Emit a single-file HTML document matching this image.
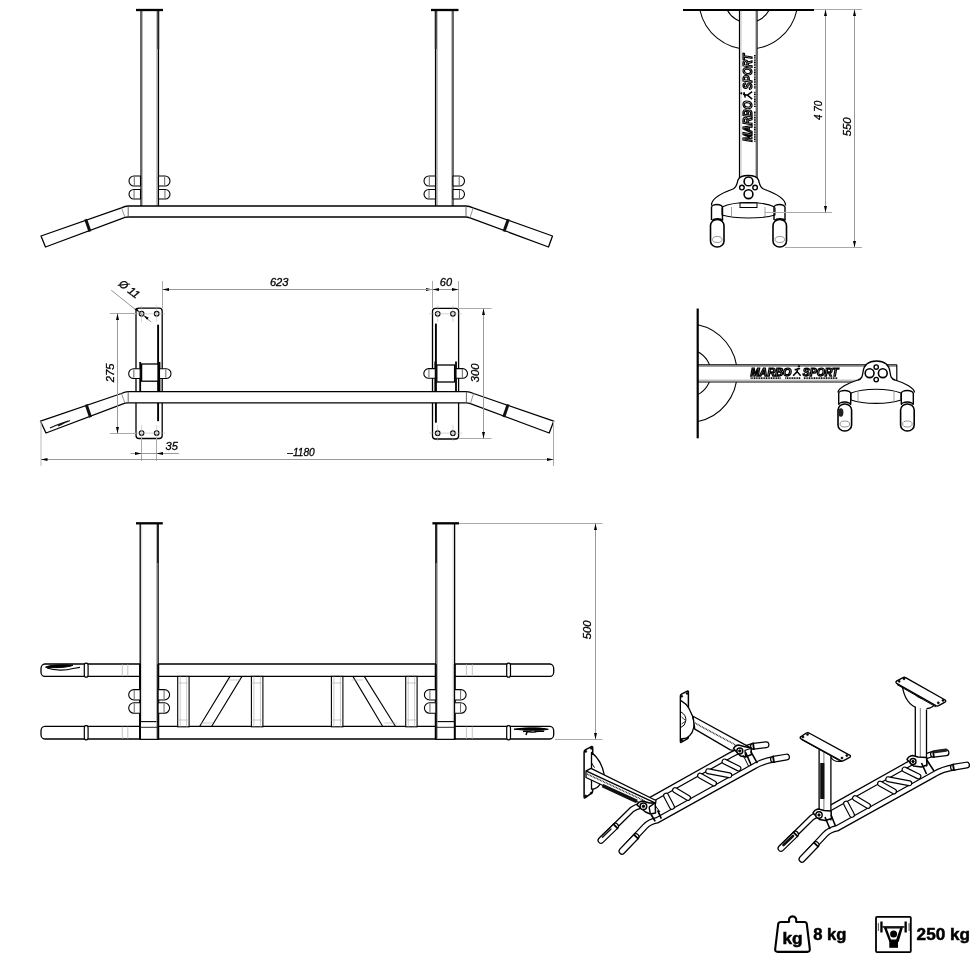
<!DOCTYPE html>
<html><head><meta charset="utf-8"><style>
html,body{margin:0;padding:0;background:#fff;overflow:hidden;}
svg{display:block;}
text{font-family:"Liberation Sans",sans-serif;fill:#000;}
svg{will-change:transform;}
</style></head><body>
<svg width="980" height="980" viewBox="0 0 980 980">
<rect width="980" height="980" fill="#fff"/>
<rect x="141" y="10" width="17.5" height="197" fill="#fff"/>
<line x1="141" y1="10" x2="141" y2="207" stroke="#000" stroke-width="1.2" />
<line x1="158.5" y1="10" x2="158.5" y2="207" stroke="#000" stroke-width="1.2" />
<line x1="142.5" y1="10" x2="142.5" y2="207" stroke="#aaa" stroke-width="0.8" />
<line x1="157.1" y1="10" x2="157.1" y2="207" stroke="#888" stroke-width="1.2" />
<line x1="158.3" y1="10" x2="158.3" y2="49" stroke="#222" stroke-width="1.8" />
<line x1="136" y1="10" x2="163" y2="10" stroke="#000" stroke-width="2.3" />
<rect x="435.5" y="10" width="17.5" height="197" fill="#fff"/>
<line x1="435.5" y1="10" x2="435.5" y2="207" stroke="#000" stroke-width="1.2" />
<line x1="453" y1="10" x2="453" y2="207" stroke="#000" stroke-width="1.2" />
<line x1="451.5" y1="10" x2="451.5" y2="207" stroke="#aaa" stroke-width="0.8" />
<line x1="436.9" y1="10" x2="436.9" y2="207" stroke="#888" stroke-width="1.2" />
<line x1="435.7" y1="10" x2="435.7" y2="49" stroke="#222" stroke-width="1.8" />
<line x1="431" y1="10" x2="458.5" y2="10" stroke="#000" stroke-width="2.3" />
<path d="M140.5,176 L134,176 A5,5 0 0 0 134,186 L140.5,186 Z" fill="#fff" stroke="#000" stroke-width="1.1" stroke-linejoin="round" />
<line x1="134.3" y1="176.6" x2="134.3" y2="185.4" stroke="#555" stroke-width="0.9" />
<path d="M158.5,176 L165,176 A5,5 0 0 1 165,186 L158.5,186 Z" fill="#fff" stroke="#000" stroke-width="1.1" stroke-linejoin="round" />
<line x1="164.7" y1="176.6" x2="164.7" y2="185.4" stroke="#555" stroke-width="0.9" />
<path d="M435.5,176 L429,176 A5,5 0 0 0 429,186 L435.5,186 Z" fill="#fff" stroke="#000" stroke-width="1.1" stroke-linejoin="round" />
<line x1="429.3" y1="176.6" x2="429.3" y2="185.4" stroke="#555" stroke-width="0.9" />
<path d="M453,176 L459.5,176 A5,5 0 0 1 459.5,186 L453,186 Z" fill="#fff" stroke="#000" stroke-width="1.1" stroke-linejoin="round" />
<line x1="459.2" y1="176.6" x2="459.2" y2="185.4" stroke="#555" stroke-width="0.9" />
<path d="M140.5,189.5 L133.75,189.5 A4.75,4.75 0 0 0 133.75,199 L140.5,199 Z" fill="#fff" stroke="#000" stroke-width="1.1" stroke-linejoin="round" />
<line x1="134.05" y1="190.1" x2="134.05" y2="198.4" stroke="#555" stroke-width="0.9" />
<path d="M158.5,189.5 L165.25,189.5 A4.75,4.75 0 0 1 165.25,199 L158.5,199 Z" fill="#fff" stroke="#000" stroke-width="1.1" stroke-linejoin="round" />
<line x1="164.95" y1="190.1" x2="164.95" y2="198.4" stroke="#555" stroke-width="0.9" />
<path d="M435.5,189.5 L428.75,189.5 A4.75,4.75 0 0 0 428.75,199 L435.5,199 Z" fill="#fff" stroke="#000" stroke-width="1.1" stroke-linejoin="round" />
<line x1="429.05" y1="190.1" x2="429.05" y2="198.4" stroke="#555" stroke-width="0.9" />
<path d="M453,189.5 L459.75,189.5 A4.75,4.75 0 0 1 459.75,199 L453,199 Z" fill="#fff" stroke="#000" stroke-width="1.1" stroke-linejoin="round" />
<line x1="459.45" y1="190.1" x2="459.45" y2="198.4" stroke="#555" stroke-width="0.9" />
<path d="M41,236 L121.4,207.8 Q125.2,206 128.2,206 L466,206 Q469,206 473.2,207.8 L552.5,236 L548.5,247 L470,217.8 Q467.5,217 466,217 L128.2,217 Q126.7,217 125,217.4 L45.5,247 Z" fill="#fff" stroke="#000" stroke-width="1.3" stroke-linejoin="round" />
<line x1="128.2" y1="206" x2="128.2" y2="217" stroke="#555" stroke-width="0.9" />
<line x1="466" y1="206" x2="466" y2="217" stroke="#555" stroke-width="0.9" />
<line x1="121.4" y1="207.8" x2="125" y2="217.4" stroke="#777" stroke-width="0.8" />
<line x1="473.2" y1="207.8" x2="470" y2="217.8" stroke="#777" stroke-width="0.8" />
<line x1="85.67" y1="219.27" x2="89.96" y2="231.51" stroke="#111" stroke-width="3.0" />
<line x1="508.34" y1="219.23" x2="503.97" y2="231.5" stroke="#111" stroke-width="3.0" />
<path d="M699.9,10 A49.6,49.6 0 0 0 796.9,10" fill="none" stroke="#000" stroke-width="1.1" stroke-linejoin="round" />
<path d="M727.2,10 A23.7,23.7 0 0 0 769.2,10" fill="none" stroke="#000" stroke-width="1.1" stroke-linejoin="round" />
<rect x="739.5" y="10" width="17.5" height="167" fill="#fff"/>
<line x1="739.5" y1="10" x2="739.5" y2="178" stroke="#000" stroke-width="1.2" />
<line x1="757" y1="10" x2="757" y2="178" stroke="#000" stroke-width="1.2" />
<line x1="741" y1="10" x2="741" y2="178" stroke="#aaa" stroke-width="0.7" />
<line x1="755.5" y1="10" x2="755.5" y2="178" stroke="#aaa" stroke-width="0.7" />
<line x1="683" y1="10" x2="814" y2="10" stroke="#000" stroke-width="2.0" />
<g transform="rotate(-90 748.3 97.8)">
<text x="704.3" y="101.7" font-size="12.15" font-style="italic" font-weight="bold" textLength="40.92" lengthAdjust="spacingAndGlyphs" stroke="#000" stroke-width="1.25" style="fill:#fff">MARBO</text>
<text x="756.66" y="101.7" font-size="12.15" font-style="italic" font-weight="bold" textLength="35.64" lengthAdjust="spacingAndGlyphs" stroke="#000" stroke-width="1.25" style="fill:#fff">SPORT</text>
<path d="M746.94,101.7 L750.94,96.92 L754.44,101.7 M750.94,96.92 L751.94,92.56 M748.44,94.74 L753.94,93.44" fill="none" stroke="#000" stroke-width="1.5" stroke-linejoin="round" />
<circle cx="752.74" cy="90.83" r="1.1" fill="#000" stroke="#000" stroke-width="0"/>
<line x1="704.3" y1="104.31" x2="734.99" y2="104.31" stroke="#000" stroke-width="1.6" stroke-dasharray="1.1 0.6"/>
<line x1="739.08" y1="104.31" x2="754.66" y2="104.31" stroke="#000" stroke-width="1.6" stroke-dasharray="1.1 0.6"/>
<line x1="757.66" y1="104.31" x2="791.3" y2="104.31" stroke="#000" stroke-width="1.6" stroke-dasharray="1.1 0.6"/>
</g>
<path d="M711.5,205.5 C711,199 722,193 733,189 C737,187 737,183 738,180 C739.5,176 743,175.5 748.3,175.5 C753.5,175.5 757,176 758.5,180 C759.5,183 759.5,187 763.5,189 C774.5,193 786,199 785.5,205.5" fill="#fff" stroke="#000" stroke-width="1.3" stroke-linejoin="round" />
<circle cx="748.5" cy="181.4" r="4.4" fill="#fff" stroke="#000" stroke-width="1.6"/>
<circle cx="748.5" cy="194.2" r="4.4" fill="#fff" stroke="#000" stroke-width="1.6"/>
<circle cx="741.9" cy="187.6" r="2.3" fill="#fff" stroke="#000" stroke-width="1.4"/>
<circle cx="755.1" cy="187.6" r="2.3" fill="#fff" stroke="#000" stroke-width="1.4"/>
<path d="M722,207 C735,201 762,201 775,207 L775,215 C762,219 735,219 722,215 Z" fill="#fff" stroke="#000" stroke-width="1.1" stroke-linejoin="round" />
<rect x="740" y="203" width="17" height="4.5" fill="#fff" stroke="#000" stroke-width="1"/>
<line x1="731.5" y1="207" x2="731.5" y2="217" stroke="#888" stroke-width="0.8" />
<line x1="765" y1="207" x2="765" y2="217" stroke="#888" stroke-width="0.8" />
<path d="M711.5,207 L711.5,220 M722.5,207 L722.5,220 M711.5,207.5 A5.5,3 0 0 1 722.5,207.5" fill="#fff" stroke="#000" stroke-width="1.4" stroke-linejoin="round" />
<rect x="710.5" y="219.5" width="13.5" height="27.5" rx="6.7" ry="6" fill="#fff" stroke="#000" stroke-width="1.6"/>
<path d="M712,220.5 A6,3 0 0 1 723,220.5" fill="none" stroke="#000" stroke-width="1.4" stroke-linejoin="round" />
<ellipse cx="717.3" cy="239.5" rx="4.8" ry="3" fill="none" stroke="#777" stroke-width="0.8"/>
<path d="M774.0,207 L774.0,220 M785.0,207 L785.0,220 M774.0,207.5 A5.5,3 0 0 1 785.0,207.5" fill="#fff" stroke="#000" stroke-width="1.4" stroke-linejoin="round" />
<rect x="773.0" y="219.5" width="13.5" height="27.5" rx="6.7" ry="6" fill="#fff" stroke="#000" stroke-width="1.6"/>
<path d="M774.5,220.5 A6,3 0 0 1 785.5,220.5" fill="none" stroke="#000" stroke-width="1.4" stroke-linejoin="round" />
<ellipse cx="779.8" cy="239.5" rx="4.8" ry="3" fill="none" stroke="#777" stroke-width="0.8"/>
<line x1="814" y1="9.5" x2="862" y2="9.5" stroke="#aaa" stroke-width="1" />
<line x1="765" y1="212.5" x2="832" y2="212.5" stroke="#aaa" stroke-width="1" />
<line x1="785" y1="247.5" x2="862" y2="247.5" stroke="#aaa" stroke-width="1" />
<line x1="825.5" y1="10" x2="825.5" y2="212.5" stroke="#999" stroke-width="1" />
<path d="M825.5,9.5 L827,16 L824,16 Z" fill="#000"/>
<path d="M825.5,212.5 L824,206 L827,206 Z" fill="#000"/>
<line x1="854.5" y1="10" x2="854.5" y2="247" stroke="#999" stroke-width="1" />
<path d="M854.5,9.5 L856,16 L853,16 Z" fill="#000"/>
<path d="M854.5,247.5 L853,241 L856,241 Z" fill="#000"/>
<text x="822.3" y="110.4" font-size="11.5" font-style="italic" font-weight="normal" text-anchor="middle" transform="rotate(-90 822.3 110.4)" textLength="19.2" lengthAdjust="spacingAndGlyphs" stroke="#000" stroke-width="0.3" >4 70</text>
<text x="851.4" y="126.8" font-size="11.5" font-style="italic" font-weight="normal" text-anchor="middle" transform="rotate(-90 851.4 126.8)" textLength="18.8" lengthAdjust="spacingAndGlyphs" stroke="#000" stroke-width="0.3" >550</text>
<rect x="136" y="308.2" width="26.19999999999999" height="130.3" rx="3" fill="#fff" stroke="#000" stroke-width="1.3"/>
<rect x="432.5" y="308.3" width="26.100000000000023" height="130.7" rx="3" fill="#fff" stroke="#000" stroke-width="1.3"/>
<circle cx="141.6" cy="313.7" r="2.3" fill="#fff" stroke="#000" stroke-width="1.1"/>
<circle cx="141.6" cy="433" r="2.3" fill="#fff" stroke="#000" stroke-width="1.1"/>
<circle cx="156.7" cy="313.7" r="2.3" fill="#fff" stroke="#000" stroke-width="1.1"/>
<circle cx="156.7" cy="433" r="2.3" fill="#fff" stroke="#000" stroke-width="1.1"/>
<circle cx="437.7" cy="313.8" r="2.3" fill="#fff" stroke="#000" stroke-width="1.1"/>
<circle cx="437.7" cy="433.2" r="2.3" fill="#fff" stroke="#000" stroke-width="1.1"/>
<circle cx="452.9" cy="313.8" r="2.3" fill="#fff" stroke="#000" stroke-width="1.1"/>
<circle cx="452.9" cy="433.2" r="2.3" fill="#fff" stroke="#000" stroke-width="1.1"/>
<line x1="158.1" y1="324.7" x2="158.1" y2="421.2" stroke="#000" stroke-width="1.9" />
<line x1="435.9" y1="323.6" x2="435.9" y2="422.7" stroke="#000" stroke-width="1.9" />
<rect x="141.6" y="364" width="16.400000000000006" height="17.19999999999999" fill="#fff" stroke="#000" stroke-width="1.3"/>
<line x1="140.2" y1="362" x2="140.2" y2="393.6" stroke="#000" stroke-width="1.8" />
<line x1="159.5" y1="362" x2="159.5" y2="393.6" stroke="#000" stroke-width="1.8" />
<rect x="436.8" y="365" width="17.80000000000001" height="17" fill="#fff" stroke="#000" stroke-width="1.3"/>
<line x1="435.3" y1="361.5" x2="435.3" y2="393" stroke="#000" stroke-width="1.8" />
<line x1="456" y1="361.5" x2="456" y2="393" stroke="#000" stroke-width="1.8" />
<path d="M140.2,368.8 L133.55,368.8 A4.85,4.85 0 0 0 133.55,378.5 L140.2,378.5 Z" fill="#fff" stroke="#000" stroke-width="1.1" stroke-linejoin="round" />
<line x1="133.85" y1="369.4" x2="133.85" y2="377.9" stroke="#555" stroke-width="0.9" />
<path d="M159.5,368.8 L166.15,368.8 A4.85,4.85 0 0 1 166.15,378.5 L159.5,378.5 Z" fill="#fff" stroke="#000" stroke-width="1.1" stroke-linejoin="round" />
<line x1="165.85" y1="369.4" x2="165.85" y2="377.9" stroke="#555" stroke-width="0.9" />
<path d="M435.3,368.6 L428.65,368.6 A4.85,4.85 0 0 0 428.65,378.3 L435.3,378.3 Z" fill="#fff" stroke="#000" stroke-width="1.1" stroke-linejoin="round" />
<line x1="428.95" y1="369.2" x2="428.95" y2="377.7" stroke="#555" stroke-width="0.9" />
<path d="M456,368.6 L462.65,368.6 A4.85,4.85 0 0 1 462.65,378.3 L456,378.3 Z" fill="#fff" stroke="#000" stroke-width="1.1" stroke-linejoin="round" />
<line x1="462.35" y1="369.2" x2="462.35" y2="377.7" stroke="#555" stroke-width="0.9" />
<rect x="128" y="391.7" width="338" height="11.2" fill="#fff"/>
<path d="M40.5,421.2 L121.4,393.5 Q125.2,391.7 128.2,391.7 L466.4,391.7 Q469.4,391.7 473.6,393.5 L553.7,421.2 L549.2,433 L470.4,403.6 Q467.9,402.8 466.4,402.8 L128.2,402.8 Q126.7,402.8 125,403.2 L46,433 Z" fill="#fff" stroke="#000" stroke-width="1.3" stroke-linejoin="round" />
<line x1="128.2" y1="391.7" x2="128.2" y2="402.8" stroke="#555" stroke-width="0.9" />
<line x1="466.4" y1="391.7" x2="466.4" y2="402.8" stroke="#555" stroke-width="0.9" />
<line x1="121.4" y1="393.5" x2="125" y2="403.2" stroke="#777" stroke-width="0.8" />
<line x1="473.6" y1="393.5" x2="470.4" y2="403.6" stroke="#777" stroke-width="0.8" />
<line x1="86.18" y1="404.5" x2="90.55" y2="417.27" stroke="#111" stroke-width="3.0" />
<line x1="508.13" y1="404.38" x2="503.73" y2="417.1" stroke="#111" stroke-width="3.0" />
<path d="M50,428 C56,425 62,423 68,421 M58,426 C62,424 66,422 70,420.5" fill="none" stroke="#111" stroke-width="1.3" stroke-linejoin="round" />
<line x1="110" y1="313.5" x2="136" y2="313.5" stroke="#aaa" stroke-width="1" />
<line x1="110" y1="433.5" x2="136" y2="433.5" stroke="#aaa" stroke-width="1" />
<line x1="117.5" y1="313.8" x2="117.5" y2="433" stroke="#999" stroke-width="1" />
<path d="M117.5,313.6 L119,320.1 L116,320.1 Z" fill="#000"/>
<path d="M117.5,433.4 L116,426.9 L119,426.9 Z" fill="#000"/>
<line x1="141.6" y1="305.5" x2="141.6" y2="322" stroke="#aaa" stroke-width="0.5" />
<line x1="141.6" y1="425" x2="141.6" y2="441" stroke="#aaa" stroke-width="0.5" />
<line x1="156.7" y1="305.5" x2="156.7" y2="322" stroke="#aaa" stroke-width="0.5" />
<line x1="156.7" y1="425" x2="156.7" y2="441" stroke="#aaa" stroke-width="0.5" />
<line x1="437.7" y1="305.5" x2="437.7" y2="322" stroke="#aaa" stroke-width="0.5" />
<line x1="437.7" y1="425" x2="437.7" y2="441" stroke="#aaa" stroke-width="0.5" />
<line x1="452.9" y1="305.5" x2="452.9" y2="322" stroke="#aaa" stroke-width="0.5" />
<line x1="452.9" y1="425" x2="452.9" y2="441" stroke="#aaa" stroke-width="0.5" />
<line x1="133" y1="313.8" x2="165" y2="313.8" stroke="#aaa" stroke-width="0.5" />
<line x1="133" y1="433.1" x2="165" y2="433.1" stroke="#aaa" stroke-width="0.5" />
<line x1="429" y1="313.8" x2="462" y2="313.8" stroke="#aaa" stroke-width="0.5" />
<line x1="429" y1="433.1" x2="462" y2="433.1" stroke="#aaa" stroke-width="0.5" />
<text x="113.6" y="372.9" font-size="11.2" font-style="italic" font-weight="normal" text-anchor="middle" transform="rotate(-90 113.6 372.9)" textLength="18.6" lengthAdjust="spacingAndGlyphs" stroke="#000" stroke-width="0.3" >275</text>
<line x1="111.3" y1="290.3" x2="151.2" y2="322" stroke="#777" stroke-width="0.8" />
<path d="M139.8,312.2 L134.62,309.87 L136.37,307.68 Z" fill="#000"/>
<path d="M143.6,315.3 L148.78,317.63 L147.03,319.82 Z" fill="#000"/>
<text x="127" y="292" font-size="11" font-style="italic" font-weight="normal" text-anchor="middle" transform="rotate(38 127 292)" stroke="#000" stroke-width="0.3" >Ø 11</text>
<line x1="162.5" y1="281" x2="162.5" y2="308.2" stroke="#aaa" stroke-width="1" />
<line x1="432.5" y1="281" x2="432.5" y2="308.2" stroke="#aaa" stroke-width="1" />
<line x1="458.5" y1="281" x2="458.5" y2="308.2" stroke="#aaa" stroke-width="1" />
<line x1="162.5" y1="289.5" x2="432.5" y2="289.5" stroke="#999" stroke-width="1" />
<path d="M162.5,289.5 L169,288 L169,291 Z" fill="#000"/>
<path d="M432.5,289.5 L426,291 L426,288 Z" fill="#000"/>
<line x1="426" y1="289.5" x2="458.5" y2="289.5" stroke="#999" stroke-width="1" />
<path d="M458.5,289.5 L452,291 L452,288 Z" fill="#000"/>
<path d="M432.5,289.5 L439,288 L439,291 Z" fill="#000"/>
<text x="279.2" y="285.9" font-size="11.2" font-style="italic" font-weight="normal" text-anchor="middle" textLength="18.6" lengthAdjust="spacingAndGlyphs" stroke="#000" stroke-width="0.3" >623</text>
<text x="445.9" y="285.9" font-size="11.2" font-style="italic" font-weight="normal" text-anchor="middle" textLength="12.2" lengthAdjust="spacingAndGlyphs" stroke="#000" stroke-width="0.3" >60</text>
<line x1="459" y1="308.5" x2="491.5" y2="308.5" stroke="#aaa" stroke-width="1" />
<line x1="459" y1="438.5" x2="491.5" y2="438.5" stroke="#aaa" stroke-width="1" />
<line x1="483.5" y1="308.5" x2="483.5" y2="438.5" stroke="#999" stroke-width="1" />
<path d="M483.5,308.5 L485,315 L482,315 Z" fill="#000"/>
<path d="M483.5,438.5 L482,432 L485,432 Z" fill="#000"/>
<text x="479.2" y="372.9" font-size="11.2" font-style="italic" font-weight="normal" text-anchor="middle" transform="rotate(-90 479.2 372.9)" textLength="18.6" lengthAdjust="spacingAndGlyphs" stroke="#000" stroke-width="0.3" >300</text>
<line x1="141.5" y1="438" x2="141.5" y2="461" stroke="#aaa" stroke-width="1" />
<line x1="156.5" y1="438" x2="156.5" y2="461" stroke="#aaa" stroke-width="1" />
<line x1="130.5" y1="453.5" x2="178.8" y2="453.5" stroke="#999" stroke-width="1" />
<path d="M141.5,453.5 L135,455 L135,452 Z" fill="#000"/>
<path d="M156.5,453.5 L163,452 L163,455 Z" fill="#000"/>
<text x="171.7" y="449.9" font-size="11.2" font-style="italic" font-weight="normal" text-anchor="middle" textLength="12.4" lengthAdjust="spacingAndGlyphs" stroke="#000" stroke-width="0.3" >35</text>
<line x1="41" y1="421" x2="41" y2="466" stroke="#bbb" stroke-width="1" />
<line x1="553.5" y1="421" x2="553.5" y2="466" stroke="#aaa" stroke-width="1" />
<line x1="41" y1="459.5" x2="553.5" y2="459.5" stroke="#999" stroke-width="1" />
<path d="M41,459.5 L47.5,458 L47.5,461 Z" fill="#000"/>
<path d="M553.5,459.5 L547,461 L547,458 Z" fill="#000"/>
<text x="301" y="455.6" font-size="11.0" font-style="italic" font-weight="normal" text-anchor="middle" textLength="27.5" lengthAdjust="spacingAndGlyphs" stroke="#000" stroke-width="0.3" >–1180</text>
<path d="M697.8,324.8 A49.4,49.4 0 0 1 697.8,421.5" fill="none" stroke="#000" stroke-width="1.1" stroke-linejoin="round" />
<path d="M697.8,351.7 A24.1,24.1 0 0 1 697.8,394.6" fill="none" stroke="#000" stroke-width="1.1" stroke-linejoin="round" />
<rect x="697" y="364.8" width="200" height="17.2" fill="#fff"/>
<line x1="697" y1="364.8" x2="896.8" y2="364.8" stroke="#000" stroke-width="1.2" />
<line x1="697" y1="366.5" x2="896.8" y2="366.5" stroke="#888" stroke-width="0.8" />
<line x1="697" y1="382" x2="870" y2="382" stroke="#000" stroke-width="1.2" />
<line x1="697" y1="380.2" x2="870" y2="380.2" stroke="#888" stroke-width="0.8" />
<line x1="896.8" y1="364.8" x2="896.8" y2="382" stroke="#000" stroke-width="1.2" />
<line x1="697.7" y1="308.5" x2="697.7" y2="438.3" stroke="#000" stroke-width="2.2" />
<g>
<text x="750.6" y="375.8" font-size="10.61" font-style="italic" font-weight="bold" textLength="40.83" lengthAdjust="spacingAndGlyphs" stroke="#000" stroke-width="1.25" style="fill:#fff">MARBO</text>
<text x="802.84" y="375.8" font-size="10.61" font-style="italic" font-weight="bold" textLength="35.56" lengthAdjust="spacingAndGlyphs" stroke="#000" stroke-width="1.25" style="fill:#fff">SPORT</text>
<path d="M793.13,375.8 L797.13,371.62 L800.63,375.8 M797.13,371.62 L798.13,367.82 M794.63,369.72 L800.13,368.58" fill="none" stroke="#000" stroke-width="1.5" stroke-linejoin="round" />
<circle cx="798.93" cy="366.3" r="1.1" fill="#000" stroke="#000" stroke-width="0"/>
<line x1="750.6" y1="378.08" x2="781.22" y2="378.08" stroke="#000" stroke-width="1.6" stroke-dasharray="1.1 0.6"/>
<line x1="785.3" y1="378.08" x2="800.84" y2="378.08" stroke="#000" stroke-width="1.6" stroke-dasharray="1.1 0.6"/>
<line x1="803.84" y1="378.08" x2="837.4" y2="378.08" stroke="#000" stroke-width="1.6" stroke-dasharray="1.1 0.6"/>
</g>
<path d="M838,392.5 C838,388 848,383 858,380 C862,379 862.5,376 863,372 C864,364 869,361 876.5,361 C884,361 889,364 890,372 C890.5,376 891,379 895,380 C905,383 914.5,388 914.5,392.5" fill="#fff" stroke="#000" stroke-width="1.3" stroke-linejoin="round" />
<circle cx="869.6" cy="373.2" r="4.4" fill="#fff" stroke="#000" stroke-width="1.6"/>
<circle cx="882.8" cy="373.2" r="4.4" fill="#fff" stroke="#000" stroke-width="1.6"/>
<circle cx="876.2" cy="367.1" r="2.2" fill="#fff" stroke="#000" stroke-width="1.4"/>
<circle cx="876.2" cy="379.6" r="2.2" fill="#fff" stroke="#000" stroke-width="1.4"/>
<path d="M851,393 C864,388 888,388 901,393 L901,400 C888,404.5 864,404.5 851,400 Z" fill="#fff" stroke="#000" stroke-width="1.1" stroke-linejoin="round" />
<line x1="858" y1="392" x2="858" y2="402" stroke="#888" stroke-width="0.8" />
<line x1="894" y1="392" x2="894" y2="402" stroke="#888" stroke-width="0.8" />
<path d="M838.7,393 L838.7,404 M850.7,393 L850.7,404 M838.7,393.5 A6,3 0 0 1 850.7,393.5" fill="#fff" stroke="#000" stroke-width="1.4" stroke-linejoin="round" />
<rect x="838.0" y="404" width="13.6" height="27" rx="6.7" ry="6" fill="#fff" stroke="#000" stroke-width="1.6"/>
<path d="M838.7,405 A6,3 0 0 1 850.7,405" fill="none" stroke="#000" stroke-width="1.4" stroke-linejoin="round" />
<ellipse cx="844.8000000000001" cy="424" rx="4.8" ry="3" fill="none" stroke="#777" stroke-width="0.8"/>
<path d="M901.3,393 L901.3,404 M913.3,393 L913.3,404 M901.3,393.5 A6,3 0 0 1 913.3,393.5" fill="#fff" stroke="#000" stroke-width="1.4" stroke-linejoin="round" />
<rect x="900.5999999999999" y="404" width="13.6" height="27" rx="6.7" ry="6" fill="#fff" stroke="#000" stroke-width="1.6"/>
<path d="M901.3,405 A6,3 0 0 1 913.3,405" fill="none" stroke="#000" stroke-width="1.4" stroke-linejoin="round" />
<ellipse cx="907.4" cy="424" rx="4.8" ry="3" fill="none" stroke="#777" stroke-width="0.8"/>
<ellipse cx="840.8" cy="412.5" rx="2.6" ry="4.2" fill="#222"/>
<rect x="41" y="664" width="512.7" height="12.399999999999977" rx="3.8" ry="4.5" fill="#fff" stroke="#000" stroke-width="1.3"/>
<rect x="84.3" y="663.2" width="3.8" height="13.999999999999977" rx="1.6" ry="2.5" fill="#fff" stroke="#000" stroke-width="1.2"/>
<rect x="506.70000000000005" y="663.2" width="3.8" height="13.999999999999977" rx="1.6" ry="2.5" fill="#fff" stroke="#000" stroke-width="1.2"/>
<line x1="122.3" y1="664" x2="122.3" y2="676.4" stroke="#aaa" stroke-width="0.7" />
<line x1="127.8" y1="664" x2="127.8" y2="676.4" stroke="#aaa" stroke-width="0.7" />
<line x1="466.4" y1="664" x2="466.4" y2="676.4" stroke="#aaa" stroke-width="0.7" />
<line x1="472.3" y1="664" x2="472.3" y2="676.4" stroke="#aaa" stroke-width="0.7" />
<rect x="41" y="726.4" width="512.7" height="12.600000000000023" rx="3.8" ry="4.5" fill="#fff" stroke="#000" stroke-width="1.3"/>
<rect x="84.3" y="725.6" width="3.8" height="14.200000000000022" rx="1.6" ry="2.5" fill="#fff" stroke="#000" stroke-width="1.2"/>
<rect x="506.70000000000005" y="725.6" width="3.8" height="14.200000000000022" rx="1.6" ry="2.5" fill="#fff" stroke="#000" stroke-width="1.2"/>
<line x1="122.3" y1="726.4" x2="122.3" y2="739" stroke="#aaa" stroke-width="0.7" />
<line x1="127.8" y1="726.4" x2="127.8" y2="739" stroke="#aaa" stroke-width="0.7" />
<line x1="466.4" y1="726.4" x2="466.4" y2="739" stroke="#aaa" stroke-width="0.7" />
<line x1="472.3" y1="726.4" x2="472.3" y2="739" stroke="#aaa" stroke-width="0.7" />
<rect x="177.7" y="676.4" width="11.400000000000006" height="50.4" fill="#fff" stroke="#000" stroke-width="1.1"/>
<line x1="180.2" y1="676.4" x2="180.2" y2="726.8" stroke="#aaa" stroke-width="0.6" />
<line x1="186.6" y1="676.4" x2="186.6" y2="726.8" stroke="#aaa" stroke-width="0.6" />
<line x1="177.7" y1="683" x2="189.1" y2="683" stroke="#aaa" stroke-width="0.6" />
<line x1="177.7" y1="720" x2="189.1" y2="720" stroke="#aaa" stroke-width="0.6" />
<rect x="251.4" y="676.4" width="11.499999999999972" height="50.4" fill="#fff" stroke="#000" stroke-width="1.1"/>
<line x1="253.9" y1="676.4" x2="253.9" y2="726.8" stroke="#aaa" stroke-width="0.6" />
<line x1="260.4" y1="676.4" x2="260.4" y2="726.8" stroke="#aaa" stroke-width="0.6" />
<line x1="251.4" y1="683" x2="262.9" y2="683" stroke="#aaa" stroke-width="0.6" />
<line x1="251.4" y1="720" x2="262.9" y2="720" stroke="#aaa" stroke-width="0.6" />
<rect x="331.4" y="676.4" width="11.5" height="50.4" fill="#fff" stroke="#000" stroke-width="1.1"/>
<line x1="333.9" y1="676.4" x2="333.9" y2="726.8" stroke="#aaa" stroke-width="0.6" />
<line x1="340.4" y1="676.4" x2="340.4" y2="726.8" stroke="#aaa" stroke-width="0.6" />
<line x1="331.4" y1="683" x2="342.9" y2="683" stroke="#aaa" stroke-width="0.6" />
<line x1="331.4" y1="720" x2="342.9" y2="720" stroke="#aaa" stroke-width="0.6" />
<rect x="405.7" y="676.4" width="11.400000000000034" height="50.4" fill="#fff" stroke="#000" stroke-width="1.1"/>
<line x1="408.2" y1="676.4" x2="408.2" y2="726.8" stroke="#aaa" stroke-width="0.6" />
<line x1="414.6" y1="676.4" x2="414.6" y2="726.8" stroke="#aaa" stroke-width="0.6" />
<line x1="405.7" y1="683" x2="417.1" y2="683" stroke="#aaa" stroke-width="0.6" />
<line x1="405.7" y1="720" x2="417.1" y2="720" stroke="#aaa" stroke-width="0.6" />
<path d="M230,676.4 L199.4,726.8 M242,676.4 L211.4,726.8" fill="none" stroke="#000" stroke-width="1.1" stroke-linejoin="round" />
<line x1="228.5" y1="680" x2="240.5" y2="680" stroke="#aaa" stroke-width="0.6" />
<line x1="200.9" y1="723" x2="212.9" y2="723" stroke="#aaa" stroke-width="0.6" />
<path d="M352.9,676.4 L382.9,726.8 M364.3,676.4 L395.7,726.8" fill="none" stroke="#000" stroke-width="1.1" stroke-linejoin="round" />
<line x1="351.4" y1="680" x2="362.8" y2="680" stroke="#aaa" stroke-width="0.6" />
<line x1="384.4" y1="723" x2="397.2" y2="723" stroke="#aaa" stroke-width="0.6" />
<rect x="140.2" y="523.3" width="17.900000000000006" height="215.70000000000005" fill="#fff"/>
<line x1="140.2" y1="523.3" x2="140.2" y2="739.3" stroke="#000" stroke-width="1.3" />
<line x1="158.1" y1="523.3" x2="158.1" y2="739.3" stroke="#000" stroke-width="1.3" />
<line x1="140.2" y1="721.6" x2="158.1" y2="721.6" stroke="#000" stroke-width="1.1" />
<line x1="140.2" y1="739.3" x2="158.1" y2="739.3" stroke="#000" stroke-width="1.1" />
<line x1="156.6" y1="523.3" x2="156.6" y2="739" stroke="#999" stroke-width="0.8" />
<line x1="157.9" y1="523.3" x2="157.9" y2="563" stroke="#222" stroke-width="1.8" />
<line x1="141.7" y1="523.3" x2="141.7" y2="721" stroke="#bbb" stroke-width="0.6" />
<line x1="136" y1="523.3" x2="162.8" y2="523.3" stroke="#000" stroke-width="2.3" />
<rect x="435.9" y="523.3" width="18.700000000000045" height="215.70000000000005" fill="#fff"/>
<line x1="435.9" y1="523.3" x2="435.9" y2="739.3" stroke="#000" stroke-width="1.3" />
<line x1="454.6" y1="523.3" x2="454.6" y2="739.3" stroke="#000" stroke-width="1.3" />
<line x1="435.9" y1="721.6" x2="454.6" y2="721.6" stroke="#000" stroke-width="1.1" />
<line x1="435.9" y1="739.3" x2="454.6" y2="739.3" stroke="#000" stroke-width="1.1" />
<line x1="437.4" y1="523.3" x2="437.4" y2="739" stroke="#999" stroke-width="0.8" />
<line x1="436.1" y1="523.3" x2="436.1" y2="563" stroke="#222" stroke-width="1.8" />
<line x1="453.1" y1="523.3" x2="453.1" y2="721" stroke="#bbb" stroke-width="0.6" />
<line x1="432.4" y1="523.3" x2="459" y2="523.3" stroke="#000" stroke-width="2.3" />
<line x1="140" y1="664" x2="140" y2="739.5" stroke="#000" stroke-width="1.9" />
<line x1="158.3" y1="664" x2="158.3" y2="739.5" stroke="#000" stroke-width="1.9" />
<line x1="140.2" y1="727.3" x2="158.1" y2="727.3" stroke="#222" stroke-width="1.0" />
<line x1="435.7" y1="664" x2="435.7" y2="739.5" stroke="#000" stroke-width="1.9" />
<line x1="454.8" y1="664" x2="454.8" y2="739.5" stroke="#000" stroke-width="1.9" />
<line x1="435.9" y1="727.3" x2="454.6" y2="727.3" stroke="#222" stroke-width="1.0" />
<path d="M140.2,689.6 L133.9,689.6 A5.2,5.2 0 0 0 133.9,700 L140.2,700 Z" fill="#fff" stroke="#000" stroke-width="1.1" stroke-linejoin="round" />
<line x1="134.2" y1="690.2" x2="134.2" y2="699.4" stroke="#555" stroke-width="0.9" />
<path d="M158.1,689.6 L164.4,689.6 A5.2,5.2 0 0 1 164.4,700 L158.1,700 Z" fill="#fff" stroke="#000" stroke-width="1.1" stroke-linejoin="round" />
<line x1="164.1" y1="690.2" x2="164.1" y2="699.4" stroke="#555" stroke-width="0.9" />
<path d="M435.9,689.6 L429.6,689.6 A5.2,5.2 0 0 0 429.6,700 L435.9,700 Z" fill="#fff" stroke="#000" stroke-width="1.1" stroke-linejoin="round" />
<line x1="429.9" y1="690.2" x2="429.9" y2="699.4" stroke="#555" stroke-width="0.9" />
<path d="M454.6,689.6 L460.9,689.6 A5.2,5.2 0 0 1 460.9,700 L454.6,700 Z" fill="#fff" stroke="#000" stroke-width="1.1" stroke-linejoin="round" />
<line x1="460.6" y1="690.2" x2="460.6" y2="699.4" stroke="#555" stroke-width="0.9" />
<path d="M140.2,702.8 L133.95,702.8 A5.25,5.25 0 0 0 133.95,713.3 L140.2,713.3 Z" fill="#fff" stroke="#000" stroke-width="1.1" stroke-linejoin="round" />
<line x1="134.25" y1="703.4" x2="134.25" y2="712.7" stroke="#555" stroke-width="0.9" />
<path d="M158.1,702.8 L164.35,702.8 A5.25,5.25 0 0 1 164.35,713.3 L158.1,713.3 Z" fill="#fff" stroke="#000" stroke-width="1.1" stroke-linejoin="round" />
<line x1="164.05" y1="703.4" x2="164.05" y2="712.7" stroke="#555" stroke-width="0.9" />
<path d="M435.9,702.8 L429.65,702.8 A5.25,5.25 0 0 0 429.65,713.3 L435.9,713.3 Z" fill="#fff" stroke="#000" stroke-width="1.1" stroke-linejoin="round" />
<line x1="429.95" y1="703.4" x2="429.95" y2="712.7" stroke="#555" stroke-width="0.9" />
<path d="M454.6,702.8 L460.85,702.8 A5.25,5.25 0 0 1 460.85,713.3 L454.6,713.3 Z" fill="#fff" stroke="#000" stroke-width="1.1" stroke-linejoin="round" />
<line x1="460.55" y1="703.4" x2="460.55" y2="712.7" stroke="#555" stroke-width="0.9" />
<path d="M45.5,667.2 C50,664.8 62,664.5 73,665.2 C68,667.5 58,667.8 49,667.6 Z" fill="#000" stroke="#000" stroke-width="1"/>
<path d="M47,668 C55,671 66,670.5 73,668.5 L80,667.3" fill="none" stroke="#000" stroke-width="1.2" stroke-linejoin="round" />
<path d="M514,729.2 C525,727.5 540,727.3 548.3,729.3 C540,730.8 528,730.6 514,729.2 Z" fill="#000" stroke="#000" stroke-width="1"/>
<path d="M523,731.5 C528,730.5 532,733.5 536,731.5 C539,730.5 542,732 544,731 M527,732 L526,735" fill="none" stroke="#000" stroke-width="1.5" stroke-linejoin="round" />
<line x1="459" y1="523.5" x2="602.5" y2="523.5" stroke="#aaa" stroke-width="1" />
<line x1="555" y1="739.5" x2="602.5" y2="739.5" stroke="#aaa" stroke-width="1" />
<line x1="595.5" y1="523.5" x2="595.5" y2="739.5" stroke="#999" stroke-width="1" />
<path d="M595.5,523.5 L597,530 L594,530 Z" fill="#000"/>
<path d="M595.5,739.5 L594,733 L597,733 Z" fill="#000"/>
<text x="591.5" y="629.9" font-size="11.2" font-style="italic" font-weight="normal" text-anchor="middle" transform="rotate(-90 591.5 629.9)" textLength="18.7" lengthAdjust="spacingAndGlyphs" stroke="#000" stroke-width="0.3" >500</text>
<g transform="translate(0 0)">
<path d="M622.5,850.5 L645,826.5 Q650,821.5 657,820.3 L755,765.8 Q762,761.5 774,759.3" fill="none" stroke="#000" stroke-width="6.6" stroke-linecap="round" stroke-linejoin="round"/>
<path d="M622.5,850.5 L645,826.5 Q650,821.5 657,820.3 L755,765.8 Q762,761.5 774,759.3" fill="none" stroke="#fff" stroke-width="4.1" stroke-linecap="round" stroke-linejoin="round"/>
<path d="M601.5,839.5 L632,809.5 Q635.5,806.8 640,805.8 L731,754.8 Q740,749.5 751,746.5" fill="none" stroke="#000" stroke-width="6.3" stroke-linecap="round" stroke-linejoin="round"/>
<path d="M601.5,839.5 L632,809.5 Q635.5,806.8 640,805.8 L731,754.8 Q740,749.5 751,746.5" fill="none" stroke="#fff" stroke-width="3.8" stroke-linecap="round" stroke-linejoin="round"/>
<path d="M666.05,795.57 L671.95,806.93" fill="none" stroke="#000" stroke-width="6.0" stroke-linecap="round" stroke-linejoin="round"/>
<path d="M666.05,795.57 L671.95,806.93" fill="none" stroke="#fff" stroke-width="3.7" stroke-linecap="round" stroke-linejoin="round"/>
<path d="M675.03,790.12 L687.97,797.88" fill="none" stroke="#000" stroke-width="6.0" stroke-linecap="round" stroke-linejoin="round"/>
<path d="M675.03,790.12 L687.97,797.88" fill="none" stroke="#fff" stroke-width="3.7" stroke-linecap="round" stroke-linejoin="round"/>
<path d="M700.05,775.59 L713.95,783.41" fill="none" stroke="#000" stroke-width="6.0" stroke-linecap="round" stroke-linejoin="round"/>
<path d="M700.05,775.59 L713.95,783.41" fill="none" stroke="#fff" stroke-width="3.7" stroke-linecap="round" stroke-linejoin="round"/>
<path d="M708.18,771.23 L729.32,775.27" fill="none" stroke="#000" stroke-width="6.0" stroke-linecap="round" stroke-linejoin="round"/>
<path d="M708.18,771.23 L729.32,775.27" fill="none" stroke="#fff" stroke-width="3.7" stroke-linecap="round" stroke-linejoin="round"/>
<path d="M724.57,761.54 L738.43,768.46" fill="none" stroke="#000" stroke-width="6.0" stroke-linecap="round" stroke-linejoin="round"/>
<path d="M724.57,761.54 L738.43,768.46" fill="none" stroke="#fff" stroke-width="3.7" stroke-linecap="round" stroke-linejoin="round"/>
<path d="M601,840.3 L615.5,826.3" fill="none" stroke="#000" stroke-width="7.0" stroke-linecap="round" stroke-linejoin="round"/>
<path d="M601,840.3 L615.5,826.3" fill="none" stroke="#fff" stroke-width="4.6" stroke-linecap="round" stroke-linejoin="round"/>
<path d="M622,851.2 L636,836.7" fill="none" stroke="#000" stroke-width="7.0" stroke-linecap="round" stroke-linejoin="round"/>
<path d="M622,851.2 L636,836.7" fill="none" stroke="#fff" stroke-width="4.6" stroke-linecap="round" stroke-linejoin="round"/>
<path d="M753.5,746.3 L766,744.8" fill="none" stroke="#000" stroke-width="7.0" stroke-linecap="round" stroke-linejoin="round"/>
<path d="M753.5,746.3 L766,744.8" fill="none" stroke="#fff" stroke-width="4.6" stroke-linecap="round" stroke-linejoin="round"/>
<path d="M773.5,759.3 L786.5,757.1" fill="none" stroke="#000" stroke-width="7.0" stroke-linecap="round" stroke-linejoin="round"/>
<path d="M773.5,759.3 L786.5,757.1" fill="none" stroke="#fff" stroke-width="4.6" stroke-linecap="round" stroke-linejoin="round"/>
<line x1="613" y1="823.71" x2="618" y2="828.89" stroke="#000" stroke-width="1.8" />
<line x1="633.41" y1="834.2" x2="638.59" y2="839.2" stroke="#000" stroke-width="1.8" />
<line x1="753.07" y1="742.73" x2="753.93" y2="749.87" stroke="#000" stroke-width="1.8" />
<line x1="772.91" y1="755.75" x2="774.09" y2="762.85" stroke="#000" stroke-width="1.8" />
</g>
<g transform="translate(180 8)">
<path d="M622.5,850.5 L645,826.5 Q650,821.5 657,820.3 L755,765.8 Q762,761.5 774,759.3" fill="none" stroke="#000" stroke-width="6.6" stroke-linecap="round" stroke-linejoin="round"/>
<path d="M622.5,850.5 L645,826.5 Q650,821.5 657,820.3 L755,765.8 Q762,761.5 774,759.3" fill="none" stroke="#fff" stroke-width="4.1" stroke-linecap="round" stroke-linejoin="round"/>
<path d="M601.5,839.5 L632,809.5 Q635.5,806.8 640,805.8 L731,754.8 Q740,749.5 751,746.5" fill="none" stroke="#000" stroke-width="6.3" stroke-linecap="round" stroke-linejoin="round"/>
<path d="M601.5,839.5 L632,809.5 Q635.5,806.8 640,805.8 L731,754.8 Q740,749.5 751,746.5" fill="none" stroke="#fff" stroke-width="3.8" stroke-linecap="round" stroke-linejoin="round"/>
<path d="M666.05,795.57 L671.95,806.93" fill="none" stroke="#000" stroke-width="6.0" stroke-linecap="round" stroke-linejoin="round"/>
<path d="M666.05,795.57 L671.95,806.93" fill="none" stroke="#fff" stroke-width="3.7" stroke-linecap="round" stroke-linejoin="round"/>
<path d="M675.03,790.12 L687.97,797.88" fill="none" stroke="#000" stroke-width="6.0" stroke-linecap="round" stroke-linejoin="round"/>
<path d="M675.03,790.12 L687.97,797.88" fill="none" stroke="#fff" stroke-width="3.7" stroke-linecap="round" stroke-linejoin="round"/>
<path d="M700.05,775.59 L713.95,783.41" fill="none" stroke="#000" stroke-width="6.0" stroke-linecap="round" stroke-linejoin="round"/>
<path d="M700.05,775.59 L713.95,783.41" fill="none" stroke="#fff" stroke-width="3.7" stroke-linecap="round" stroke-linejoin="round"/>
<path d="M708.18,771.23 L729.32,775.27" fill="none" stroke="#000" stroke-width="6.0" stroke-linecap="round" stroke-linejoin="round"/>
<path d="M708.18,771.23 L729.32,775.27" fill="none" stroke="#fff" stroke-width="3.7" stroke-linecap="round" stroke-linejoin="round"/>
<path d="M724.57,761.54 L738.43,768.46" fill="none" stroke="#000" stroke-width="6.0" stroke-linecap="round" stroke-linejoin="round"/>
<path d="M724.57,761.54 L738.43,768.46" fill="none" stroke="#fff" stroke-width="3.7" stroke-linecap="round" stroke-linejoin="round"/>
<path d="M601,840.3 L615.5,826.3" fill="none" stroke="#000" stroke-width="7.0" stroke-linecap="round" stroke-linejoin="round"/>
<path d="M601,840.3 L615.5,826.3" fill="none" stroke="#fff" stroke-width="4.6" stroke-linecap="round" stroke-linejoin="round"/>
<path d="M622,851.2 L636,836.7" fill="none" stroke="#000" stroke-width="7.0" stroke-linecap="round" stroke-linejoin="round"/>
<path d="M622,851.2 L636,836.7" fill="none" stroke="#fff" stroke-width="4.6" stroke-linecap="round" stroke-linejoin="round"/>
<path d="M753.5,746.3 L766,744.8" fill="none" stroke="#000" stroke-width="7.0" stroke-linecap="round" stroke-linejoin="round"/>
<path d="M753.5,746.3 L766,744.8" fill="none" stroke="#fff" stroke-width="4.6" stroke-linecap="round" stroke-linejoin="round"/>
<path d="M773.5,759.3 L786.5,757.1" fill="none" stroke="#000" stroke-width="7.0" stroke-linecap="round" stroke-linejoin="round"/>
<path d="M773.5,759.3 L786.5,757.1" fill="none" stroke="#fff" stroke-width="4.6" stroke-linecap="round" stroke-linejoin="round"/>
<line x1="613" y1="823.71" x2="618" y2="828.89" stroke="#000" stroke-width="1.8" />
<line x1="633.41" y1="834.2" x2="638.59" y2="839.2" stroke="#000" stroke-width="1.8" />
<line x1="753.07" y1="742.73" x2="753.93" y2="749.87" stroke="#000" stroke-width="1.8" />
<line x1="772.91" y1="755.75" x2="774.09" y2="762.85" stroke="#000" stroke-width="1.8" />
</g>
<path d="M783.5,845 L793,836" stroke="#111" stroke-width="2.6" stroke-linecap="round"/>
<path d="M602.5,837.2 L611,829" stroke="#111" stroke-width="1.4" stroke-linecap="round"/>
<path d="M680.4,696 Q680.4,694.8 681.5,694.2 L687.3,691.2 Q688.4,690.7 688.4,692 L688.4,737 Q688.4,738.3 687.3,738.9 L681.5,742.2 Q680.4,742.8 680.4,741.5 Z" fill="#fff" stroke="#000" stroke-width="1.5" stroke-linejoin="round" />
<circle cx="681.8" cy="696.3" r="1" fill="#000" stroke="#000" stroke-width="0.5"/>
<circle cx="687" cy="693.4" r="1" fill="#000" stroke="#000" stroke-width="0.5"/>
<circle cx="681.8" cy="740.2" r="1" fill="#000" stroke="#000" stroke-width="0.5"/>
<circle cx="687" cy="737.4" r="1" fill="#000" stroke="#000" stroke-width="0.5"/>
<path d="M681,700.6 Q691,706 694.2,723 Q694,734 686.2,738.2 L681,739" fill="#fff" stroke="#000" stroke-width="1.3" stroke-linejoin="round" />
<path d="M681,712 Q686.5,715 685.8,721 Q685,726 681,727.3" fill="none" stroke="#000" stroke-width="1.0" stroke-linejoin="round" />
<line x1="681.5" y1="717" x2="685" y2="720" stroke="#000" stroke-width="0.8" />
<line x1="681.5" y1="724" x2="685" y2="721.5" stroke="#000" stroke-width="0.8" />
<path d="M693,716.2 L750.7,747.9 L745,752 L730.3,749.9 L694.8,729.1 Z" fill="#fff" stroke="#000" stroke-width="1.3" stroke-linejoin="round" />
<line x1="694.8" y1="723" x2="742" y2="748.5" stroke="#222" stroke-width="1.5" stroke-dasharray="0.9 0.7"/>
<path d="M733.5,748.5 Q735,745.5 738.5,745 L744,746.5 L751,748 L751.5,754.5 L745.5,757 L740.5,756 Z" fill="#fff" stroke="#000" stroke-width="1.5" stroke-linejoin="round" />
<circle cx="739.8" cy="751" r="3" fill="#fff" stroke="#000" stroke-width="1.4"/>
<circle cx="739.8" cy="751" r="1.2" fill="#000" stroke="#000" stroke-width="0.8"/>
<path d="M744.5,750.5 L750.5,748.5 M745,750.5 L745.5,757" fill="none" stroke="#000" stroke-width="1.3" stroke-linejoin="round" />
<line x1="745.6" y1="752.4" x2="751.2" y2="765.2" stroke="#000" stroke-width="1.6" />
<line x1="750.7" y1="751.4" x2="757.3" y2="763.2" stroke="#000" stroke-width="1.6" />
<line x1="743" y1="755" x2="748.5" y2="766" stroke="#000" stroke-width="1.0" />
<path d="M584.1,752 Q584.1,750.6 585.3,749.9 L591,746.8 Q592.7,746 592.7,747.6 L592.7,791 Q592.7,792.4 591.5,793.1 L585.4,797.7 Q584.1,798.6 584.1,797 Z" fill="#fff" stroke="#000" stroke-width="1.5" stroke-linejoin="round" />
<circle cx="585.7" cy="751.4" r="1.1" fill="#000" stroke="#000" stroke-width="0.5"/>
<circle cx="591.3" cy="748.3" r="1.1" fill="#000" stroke="#000" stroke-width="0.5"/>
<circle cx="585.7" cy="796" r="1.1" fill="#000" stroke="#000" stroke-width="0.5"/>
<circle cx="591.3" cy="793" r="1.1" fill="#000" stroke="#000" stroke-width="0.5"/>
<path d="M591.5,752.4 Q601.5,760 604.3,775 L600,784 Q597.5,789 591.5,789.2 Z" fill="#fff" stroke="#000" stroke-width="1.3" stroke-linejoin="round" />
<path d="M591.5,753 L591.5,762.8 L594.5,767.7" fill="none" stroke="#000" stroke-width="1.0" stroke-linejoin="round" />
<path d="M586,770.8 L591,768.3 L656,800.5 L655.5,804 L641,803.5 L586,777.5 Z" fill="#fff" stroke="#000" stroke-width="1.3" stroke-linejoin="round" />
<line x1="586" y1="770.8" x2="655" y2="802.8" stroke="#000" stroke-width="1.3" />
<line x1="587" y1="774" x2="645" y2="801" stroke="#222" stroke-width="1.5" stroke-dasharray="0.9 0.7"/>
<path d="M602.5,785.6 L637,801.5" stroke="#111" stroke-width="3.6"/>
<path d="M637,805 Q638.5,801.5 642.5,801 L649.5,803 L655.2,802.7 L655.5,813 L650.3,814 L645.5,812 Z" fill="#fff" stroke="#000" stroke-width="1.5" stroke-linejoin="round" />
<circle cx="643.4" cy="806.3" r="3.3" fill="#fff" stroke="#000" stroke-width="1.5"/>
<circle cx="643.4" cy="806.3" r="1.3" fill="#000" stroke="#000" stroke-width="0.8"/>
<path d="M649.1,807.1 L655.2,802.7 M649.1,807.1 L650.3,813.7" fill="none" stroke="#000" stroke-width="1.4" stroke-linejoin="round" />
<line x1="651.1" y1="814.5" x2="655.2" y2="821.4" stroke="#000" stroke-width="1.7" />
<line x1="657.7" y1="810.4" x2="661.3" y2="818.6" stroke="#000" stroke-width="1.7" />
<line x1="655.5" y1="806" x2="660" y2="812" stroke="#000" stroke-width="1.0" />
<path d="M902.3,686 Q905,704 918,708.3 Q929,710 934,705.4" fill="#fff" stroke="#000" stroke-width="1.3" stroke-linejoin="round" />
<path d="M913.5,692 Q917,698.5 923.7,698.6" fill="none" stroke="#222" stroke-width="1.0" stroke-linejoin="round" />
<rect x="915.3" y="707" width="11.2" height="58" fill="#fff"/>
<line x1="915.3" y1="706.8" x2="915.3" y2="763.2" stroke="#000" stroke-width="1.3" />
<line x1="926.5" y1="709.5" x2="926.5" y2="766.5" stroke="#000" stroke-width="1.3" />
<line x1="920.3" y1="708" x2="920.3" y2="764" stroke="#666" stroke-width="0.9" />
<path d="M896.4,681.2 L903,677.6 Q904.2,677 905.6,677.7 L945.2,700 Q946.3,701.2 945,702.1 L938.7,705.6 Q937.3,706.3 935.9,705.6 L896.6,683.3 Q895.4,682.2 896.4,681.2 Z" fill="#fff" stroke="#000" stroke-width="1.4" stroke-linejoin="round" />
<line x1="897" y1="684.6" x2="936.2" y2="707" stroke="#000" stroke-width="1.0" />
<circle cx="899.2" cy="681.3" r="1.1" fill="#000" stroke="#000" stroke-width="0.5"/>
<circle cx="904" cy="678.8" r="1.1" fill="#000" stroke="#000" stroke-width="0.5"/>
<circle cx="938.3" cy="702.8" r="1.1" fill="#000" stroke="#000" stroke-width="0.5"/>
<circle cx="943" cy="700.4" r="1.1" fill="#000" stroke="#000" stroke-width="0.5"/>
<path d="M907,759.5 Q908.5,756 912.5,755.5 L918,757 L926.5,757.5 L927,765 L921.5,767 L913.5,766 Z" fill="#fff" stroke="#000" stroke-width="1.5" stroke-linejoin="round" />
<circle cx="913" cy="761.5" r="3" fill="#fff" stroke="#000" stroke-width="1.4"/>
<circle cx="913" cy="761.5" r="1.2" fill="#000" stroke="#000" stroke-width="0.8"/>
<line x1="921.5" y1="763" x2="926.5" y2="774" stroke="#000" stroke-width="1.6" />
<line x1="926.5" y1="759.5" x2="934" y2="771" stroke="#000" stroke-width="1.6" />
<path d="M935,751.6 L946,750.2" stroke="#222" stroke-width="3.2" stroke-linecap="round"/>
<path d="M830.5,757 Q834,763 842.5,761" fill="none" stroke="#000" stroke-width="1.2" stroke-linejoin="round" />
<rect x="819.1" y="750" width="11.8" height="70" fill="#fff"/>
<line x1="819.1" y1="749.7" x2="819.1" y2="811" stroke="#000" stroke-width="1.3" />
<line x1="830.9" y1="756" x2="830.9" y2="820.4" stroke="#000" stroke-width="1.3" />
<line x1="823.9" y1="752" x2="823.9" y2="812" stroke="#666" stroke-width="0.9" />
<rect x="820.2" y="763" width="4.2" height="36" fill="#111"/>
<path d="M800.6,736.8 L806.3,733 Q807.5,732.3 809,733 L850,755.3 Q851,756.5 849.7,757.4 L843.6,760.7 Q842.2,761.3 840.7,760.5 L801,738.8 Q799.6,737.7 800.6,736.8 Z" fill="#fff" stroke="#000" stroke-width="1.4" stroke-linejoin="round" />
<line x1="801" y1="739.3" x2="841" y2="761.6" stroke="#000" stroke-width="1.0" />
<circle cx="803" cy="737" r="1.1" fill="#000" stroke="#000" stroke-width="0.5"/>
<circle cx="807.5" cy="734.5" r="1.1" fill="#000" stroke="#000" stroke-width="0.5"/>
<circle cx="842" cy="758" r="1.1" fill="#000" stroke="#000" stroke-width="0.5"/>
<circle cx="846.8" cy="755.6" r="1.1" fill="#000" stroke="#000" stroke-width="0.5"/>
<path d="M813,813 Q814.5,809.5 818.5,809 L824,810.5 L831,811 L831.5,818.5 L825.5,820.5 L819.5,819.5 Z" fill="#fff" stroke="#000" stroke-width="1.5" stroke-linejoin="round" />
<circle cx="819" cy="815" r="3.2" fill="#fff" stroke="#000" stroke-width="1.4"/>
<circle cx="819" cy="815" r="1.2" fill="#000" stroke="#000" stroke-width="0.8"/>
<line x1="825" y1="817" x2="830" y2="829" stroke="#000" stroke-width="1.6" />
<line x1="831" y1="815" x2="835.5" y2="826" stroke="#000" stroke-width="1.6" />
<path d="M781,922 L788,922 Q789.3,922 789.1,921.3 A3.7,3.7 0 1 1 796.1,921.3 Q795.9,922 797.2,922 L804.5,922 Q806.4,922 806.8,924 L809.8,949 Q810.1,951.9 807.3,951.9 L777.7,951.9 Q774.9,951.9 775.2,949 L778.2,924 Q778.6,922 781,922 Z" fill="none" stroke="#000" stroke-width="2.1" stroke-linejoin="round" />
<text x="792.5" y="943.6" font-size="16.4" font-style="normal" font-weight="bold" text-anchor="middle" textLength="20.2" lengthAdjust="spacingAndGlyphs" stroke="#000" stroke-width="0.5">kg</text>
<text x="813.2" y="940.3" font-size="16.6" font-style="normal" font-weight="bold" text-anchor="start" textLength="33.2" lengthAdjust="spacingAndGlyphs" stroke="#000" stroke-width="0.5">8 kg</text>
<rect x="876" y="916.8" width="34.8" height="35.3" rx="1" fill="none" stroke="#000" stroke-width="1.8"/>
<rect x="880.3" y="921.5" width="2.3" height="11" fill="#000"/><rect x="904.5" y="921.5" width="2.3" height="11" fill="#000"/>
<rect x="877.8" y="923.1" width="1.2" height="7.9" fill="#666"/><rect x="908.5" y="923.1" width="1.3" height="7.9" fill="#666"/>
<line x1="882.5" y1="926.9" x2="904.5" y2="926.9" stroke="#000" stroke-width="1.5" />
<path d="M883.7,927.3 L903,927.3 L898.6,942 L889.4,942 Z M886.8,928.4 L890.9,939.6 L896.2,939.6 L900,928.4 Z" fill="#000" fill-rule="evenodd"/>
<circle cx="893.6" cy="933.9" r="3.5" fill="#000" stroke="#000" stroke-width="0"/>
<rect x="889.3" y="940" width="8.7" height="7.8" fill="#000"/>
<text x="916.6" y="940.3" font-size="16.6" font-style="normal" font-weight="bold" text-anchor="start" textLength="53.4" lengthAdjust="spacingAndGlyphs" stroke="#000" stroke-width="0.5">250 kg</text>
</svg>
</body></html>
